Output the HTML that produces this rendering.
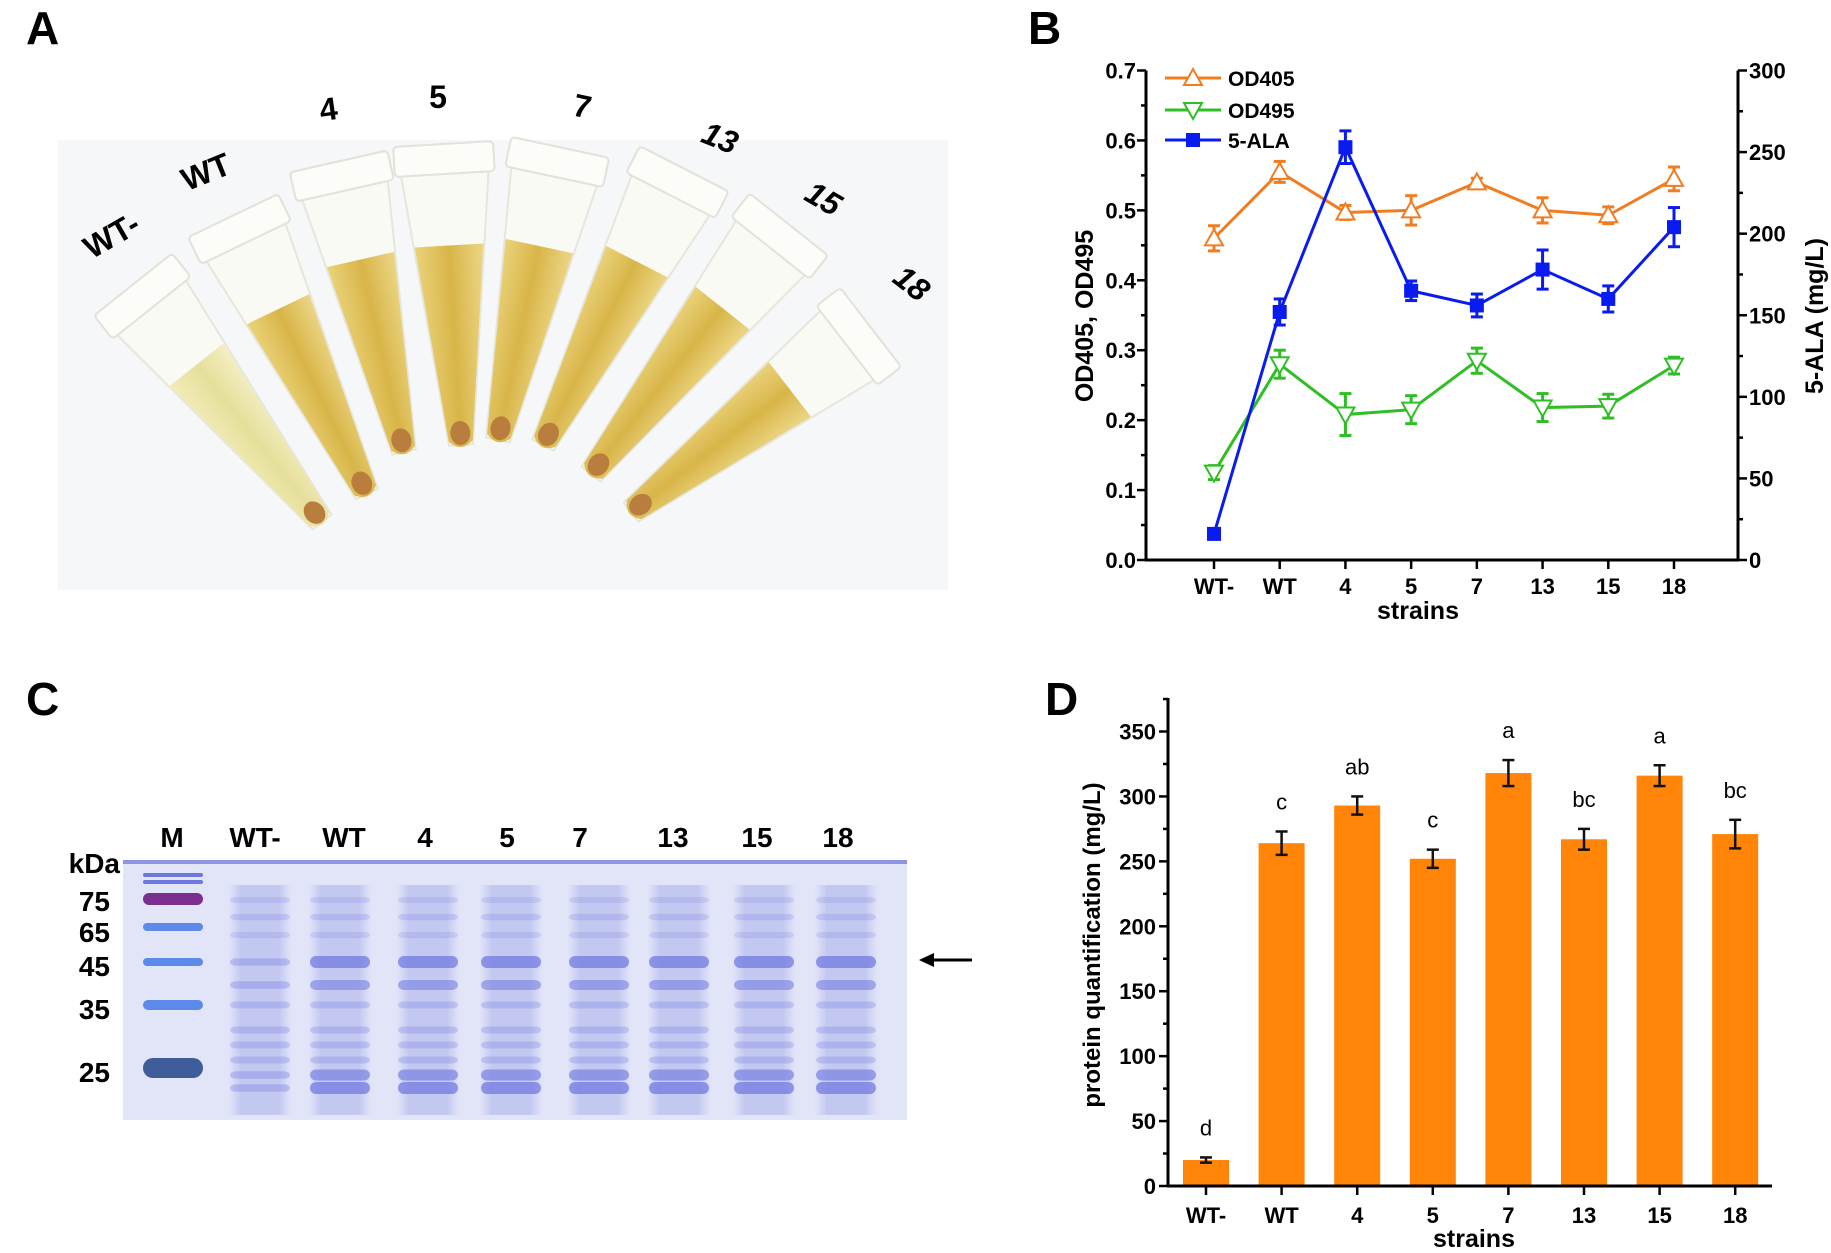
<!DOCTYPE html>
<html><head><meta charset="utf-8">
<style>
html,body{margin:0;padding:0;background:#fff;}
svg{display:block;font-family:"Liberation Sans",Arial,sans-serif;}
</style></head>
<body>
<svg id="fig" width="1831" height="1253" viewBox="0 0 1831 1253">
<defs>
<linearGradient id="liqPale" x1="0" y1="0" x2="1" y2="0"><stop offset="0" stop-color="#f1ecb8"/><stop offset="0.5" stop-color="#e6df9a"/><stop offset="1" stop-color="#f3efc6"/></linearGradient>
<linearGradient id="liqGold" x1="0" y1="0" x2="1" y2="0"><stop offset="0" stop-color="#ead27a"/><stop offset="0.5" stop-color="#d8b548"/><stop offset="1" stop-color="#ecd686"/></linearGradient>
<linearGradient id="gelLane" x1="0" y1="0" x2="1" y2="0"><stop offset="0" stop-color="#c9cdf2" stop-opacity="0"/><stop offset="0.2" stop-color="#c3c8f0"/><stop offset="0.8" stop-color="#c3c8f0"/><stop offset="1" stop-color="#c9cdf2" stop-opacity="0"/></linearGradient>
</defs>
<g id="panelA">
<text x="26" y="44" font-size="46" font-weight="bold">A</text>
<rect x="58" y="140" width="890" height="450" fill="#f6f7f9"/>
<g id="tubes"></g>
</g>
<g id="panelB">
<text x="1028" y="44" font-size="46" font-weight="bold">B</text>
</g>
<g id="panelC">
<text x="26" y="715" font-size="46" font-weight="bold">C</text>
</g>
<g id="panelD">
<text x="1045" y="715" font-size="46" font-weight="bold">D</text>
</g>
</svg>
<script>
const NS='http://www.w3.org/2000/svg';
function mk(parent,tag,attrs,text){const e=document.createElementNS(NS,tag);for(const k in attrs)e.setAttribute(k,attrs[k]);if(text!==undefined)e.textContent=text;parent.appendChild(e);return e;}

// ---- shared categories ----
const strains=['WT-','WT','4','5','7','13','15','18'];

// ---- Panel B data ----
const od405=[0.46,0.555,0.497,0.50,0.54,0.50,0.493,0.545];
const od405Err=[0.018,0.015,0.01,0.021,0.006,0.018,0.012,0.017];
const od495=[0.125,0.28,0.208,0.215,0.285,0.218,0.22,0.278];
const od495Err=[0.01,0.02,0.03,0.02,0.018,0.02,0.017,0.012];
const ala=[16,152,253,165,156,178,160,204];
const alaErr=[3,8,10,6,7,12,8,12];
const leftTicks=['0.0','0.1','0.2','0.3','0.4','0.5','0.6','0.7'];
const rightTicks=['0','50','100','150','200','250','300'];

// ---- Panel D data ----
const protein=[20,264,293,252,318,267,316,271];
const proteinErr=[2,9,7,7,10,8,8,11];
const sigLetters=['d','c','ab','c','a','bc','a','bc'];
const dTicks=['0','50','100','150','200','250','300','350'];

// ===== Panel A tubes =====
const tubesG=document.getElementById('tubes');
const tubeTops=[[143,297],[240,230],[342,177],[444,160],[557,163],[677,183],[779,237],[858,337]];
const tubeTips=[[322,522],[367,494],[404,452],[461,445],[498,440],[543,445],[591,474],[631,512]];
tubeTops.forEach((t,i)=>{
 const tip=tubeTips[i];const dx=tip[0]-t[0],dy=tip[1]-t[1];
 const L=Math.hypot(dx,dy);const ang=Math.atan2(dx,dy)*180/Math.PI;
 const g=mk(tubesG,'g',{transform:`translate(${t[0]},${t[1]}) rotate(${-ang})`});
 
 
 mk(g,'path',{d:`M-44,12 L44,12 L12,${L} L-12,${L} Z`,fill:'#fafaf4',stroke:'#e6e6dc','stroke-width':2});
 const lt=L*0.3;
 const w=44-32*lt/L;
 mk(g,'path',{d:`M${-w},${lt} L${w},${lt} L12,${L-4} Q0,${L+8} -12,${L-4} Z`,fill:i===0?'url(#liqPale)':'url(#liqGold)'});
 mk(g,'rect',{x:-50,y:-16,width:100,height:30,rx:4,fill:'#fcfcf8',stroke:'#e2e2da','stroke-width':2});
 mk(g,'ellipse',{cx:0,cy:L-12,rx:10,ry:12,fill:'#b97e3e'});
});
const tubeLabelPos=[[117,245,-30],[210,182,-22],[330,120,-8],[438,108,0],[580,117,12],[716,148,22],[818,208,30],[905,292,38]];
tubeLabelPos.forEach((p,i)=>{
 const t=mk(tubesG,'text',{x:p[0],y:p[1],'font-size':32,'font-weight':'bold','font-style':i>=5?'italic':'normal','text-anchor':'middle',transform:`rotate(${p[2]} ${p[0]} ${p[1]})`},strains[i]);
 
 
});

// ===== Panel B =====
(function(){
 const P=document.getElementById('panelB');
 const x0=1146,x1=1738,yb=560,yt=70.5;
 const cx0=1214,cstep=(1674-1214)/7;
 const X=i=>cx0+i*cstep;
 const YL=v=>yb-(v/0.7)*(yb-yt);
 const YR=v=>yb-(v/300)*(yb-yt);
 const ax=mk(P,'g',{stroke:'#000','stroke-width':3,fill:'none'});
 
 
 mk(ax,'line',{x1:x0,y1:yt,x2:x0,y2:yb+1});
 mk(ax,'line',{x1:x1,y1:yt,x2:x1,y2:yb+1});
 mk(ax,'line',{x1:x0-1,y1:yb,x2:x1+1,y2:yb});
 for(let k=0;k<=14;k++){const v=k*0.05,y=YL(v);mk(ax,'line',{x1:x0,y1:y,x2:x0-(k%2?5:9),y2:y,'stroke-width':2.5});}
 for(let k=0;k<=12;k++){const v=k*25,y=YR(v);mk(ax,'line',{x1:x1,y1:y,x2:x1+(k%2?5:9),y2:y,'stroke-width':2.5});}
 strains.forEach((s,i)=>{mk(ax,'line',{x1:X(i),y1:yb,x2:X(i),y2:yb+9,'stroke-width':2.5});});
 leftTicks.forEach(s=>{const t=mk(P,'text',{x:1136,y:YL(parseFloat(s))+8,'font-size':22,'font-weight':'bold','text-anchor':'end'},s);});
 rightTicks.forEach(s=>{const t=mk(P,'text',{x:1749,y:YR(parseFloat(s))+8,'font-size':22,'font-weight':'bold'},s);});
 strains.forEach((s,i)=>{const t=mk(P,'text',{x:X(i),y:594,'font-size':22,'font-weight':'bold','text-anchor':'middle'},s);});
 let t=mk(P,'text',{x:1418,y:619,'font-size':25,'font-weight':'bold','text-anchor':'middle'},'strains');
 
 t=mk(P,'text',{x:0,y:0,'font-size':25,'font-weight':'bold','text-anchor':'middle',transform:'translate(1093,316) rotate(-90)'},'OD405, OD495');
 
 t=mk(P,'text',{x:0,y:0,'font-size':25,'font-weight':'bold','text-anchor':'middle',transform:'translate(1823,316) rotate(-90)'},'5-ALA (mg/L)');
 

 function series(vals,errs,Y,color,marker,name){
  const g=mk(P,'g',{});
  
  
  mk(g,'polyline',{points:vals.map((v,i)=>X(i)+','+Y(v)).join(' '),fill:'none',stroke:color,'stroke-width':3});
  vals.forEach((v,i)=>{
   const x=X(i),y=Y(v),ya=Y(v+errs[i]),yb2=Y(v-errs[i]);
   mk(g,'line',{x1:x,y1:ya,x2:x,y2:yb2,stroke:color,'stroke-width':3});
   mk(g,'line',{x1:x-6,y1:ya,x2:x+6,y2:ya,stroke:color,'stroke-width':3});
   mk(g,'line',{x1:x-6,y1:yb2,x2:x+6,y2:yb2,stroke:color,'stroke-width':3});
   drawMarker(g,marker,x,y,color);
  });
 }
 function drawMarker(g,m,x,y,c){
  if(m==='up')mk(g,'polygon',{points:`${x},${y-9} ${x-9},${y+7} ${x+9},${y+7}`,fill:'#fff',stroke:c,'stroke-width':2});
  else if(m==='down')mk(g,'polygon',{points:`${x},${y+9} ${x-9},${y-7} ${x+9},${y-7}`,fill:'#fff',stroke:c,'stroke-width':2});
  else mk(g,'rect',{x:x-7,y:y-7,width:14,height:14,fill:c});
 }
 series(od405,od405Err,YL,'#f07d22','up','od405');
 series(od495,od495Err,YL,'#2fbf24','down','od495');
 series(ala,alaErr,YR,'#0a1bf0','sq','5-ala');
 const leg=[['OD405','#f07d22','up',78],['OD495','#2fbf24','down',110],['5-ALA','#0a1bf0','sq',140]];
 leg.forEach(l=>{
  const g=mk(P,'g',{});
  
  
  mk(g,'line',{x1:1165,y1:l[3],x2:1221,y2:l[3],stroke:l[1],'stroke-width':3});
  drawMarker(g,l[2],1193,l[3],l[1]);
  mk(g,'text',{x:1228,y:l[3]+8,'font-size':21,'font-weight':'bold'},l[0]);
 });
})();

// ===== Panel C gel =====
(function(){
 const P=document.getElementById('panelC');
 const gel=mk(P,'rect',{x:123,y:862,width:784,height:258,fill:'#e2e5f8'});
 
 mk(P,'rect',{x:123,y:860,width:784,height:4,fill:'#8e96e4'});
 const laneX=[260,340,428,511,599,679,764,846];
 const bandY=[[900,1],[917,1.2],[935,1],[962,4],[985,3],[1005,1.5],[1030,1.5],[1045,1.5],[1060,1.5],[1075,3.5],[1088,4]];
 laneX.forEach((lx,i)=>{
  const g=mk(P,'g',{});
  
  
  mk(g,'rect',{x:lx-32,y:885,width:64,height:230,fill:'url(#gelLane)'});
  bandY.forEach(b=>{
   let s=b[1]; if(i===0&&s>=3)s=1.8;
   mk(g,'rect',{x:lx-30,y:b[0]-2-s,width:60,height:4+2*s,rx:6,fill:'#6f76e0','fill-opacity':Math.min(0.85,0.18*s)});
  });
 });
 const mg=mk(P,'g',{});
 
 [[875,2,'#6c78e0'],[882,2,'#6c78e0'],[899,6,'#7a2f8e'],[927,4,'#5c8ae8'],[962,4,'#5c8ae8'],[1005,5,'#5c8ae8'],[1068,10,'#3e5d9a']].forEach(b=>{
  mk(mg,'rect',{x:143,y:b[0]-b[1],width:60,height:2*b[1],rx:b[1],fill:b[2]});
 });
 const lanes=['M','WT-','WT','4','5','7','13','15','18'];
 const labX=[172,255,344,425,507,580,673,757,838];
 lanes.forEach((s,i)=>{const t=mk(P,'text',{x:labX[i],y:847,'font-size':28,'font-weight':'bold','text-anchor':'middle'},s);});
 [['kDa',873],['75',911],['65',942],['45',976],['35',1019],['25',1082]].forEach(k=>{
  const t=mk(P,'text',{x:k[0]==='kDa'?120:110,y:k[1],'font-size':28,'font-weight':'bold','text-anchor':'end'},k[0]);
  
 });
 const ar=mk(P,'g',{});
 
 mk(ar,'line',{x1:932,y1:960,x2:972,y2:960,stroke:'#000','stroke-width':3});
 mk(ar,'polygon',{points:'919,960 934,953 934,967',fill:'#000'});
})();

// ===== Panel D =====
(function(){
 const P=document.getElementById('panelD');
 const x0=1168,x1=1772,yb=1186,y350=731.5;
 const X=i=>1206+i*75.6;
 const Y=v=>yb-(v/350)*(yb-y350);
 const bw=46;
 protein.forEach((v,i)=>{
  const r=mk(P,'rect',{x:X(i)-bw/2,y:Y(v),width:bw,height:yb-Y(v),fill:'#ff8408'});
  
  
  const e=proteinErr[i],ya=Y(v+e),yc=Y(v-e);
  const g=mk(P,'g',{stroke:'#111','stroke-width':2.5});
  
  
  mk(g,'line',{x1:X(i),y1:ya,x2:X(i),y2:yc});
  mk(g,'line',{x1:X(i)-6,y1:ya,x2:X(i)+6,y2:ya});
  mk(g,'line',{x1:X(i)-6,y1:yc,x2:X(i)+6,y2:yc});
  const t=mk(P,'text',{x:X(i),y:Y(v+e)-22,'font-size':22,'text-anchor':'middle'},sigLetters[i]);
  
  
 });
 const ax=mk(P,'g',{stroke:'#000','stroke-width':3});
 
 mk(ax,'line',{x1:x0,y1:698,x2:x0,y2:yb+1});
 mk(ax,'line',{x1:x0-1,y1:yb,x2:x1,y2:yb});
 for(let k=0;k<=15;k++){const y=Y(k*25);if(y<698)continue;mk(ax,'line',{x1:x0,y1:y,x2:x0-(k%2?5:9),y2:y,'stroke-width':2.5});}
 strains.forEach((s,i)=>mk(ax,'line',{x1:X(i),y1:yb,x2:X(i),y2:yb+9,'stroke-width':2.5}));
 dTicks.forEach(s=>{const t=mk(P,'text',{x:1156,y:Y(parseFloat(s))+8,'font-size':22,'font-weight':'bold','text-anchor':'end'},s);});
 strains.forEach((s,i)=>{const t=mk(P,'text',{x:X(i),y:1223,'font-size':22,'font-weight':'bold','text-anchor':'middle'},s);});
 let t=mk(P,'text',{x:1474,y:1247,'font-size':25,'font-weight':'bold','text-anchor':'middle'},'strains');
 
 t=mk(P,'text',{x:0,y:0,'font-size':24,'font-weight':'bold','text-anchor':'middle',transform:'translate(1100,945) rotate(-90)'},'protein quantification (mg/L)');
 
})();
</script>
</body></html>
